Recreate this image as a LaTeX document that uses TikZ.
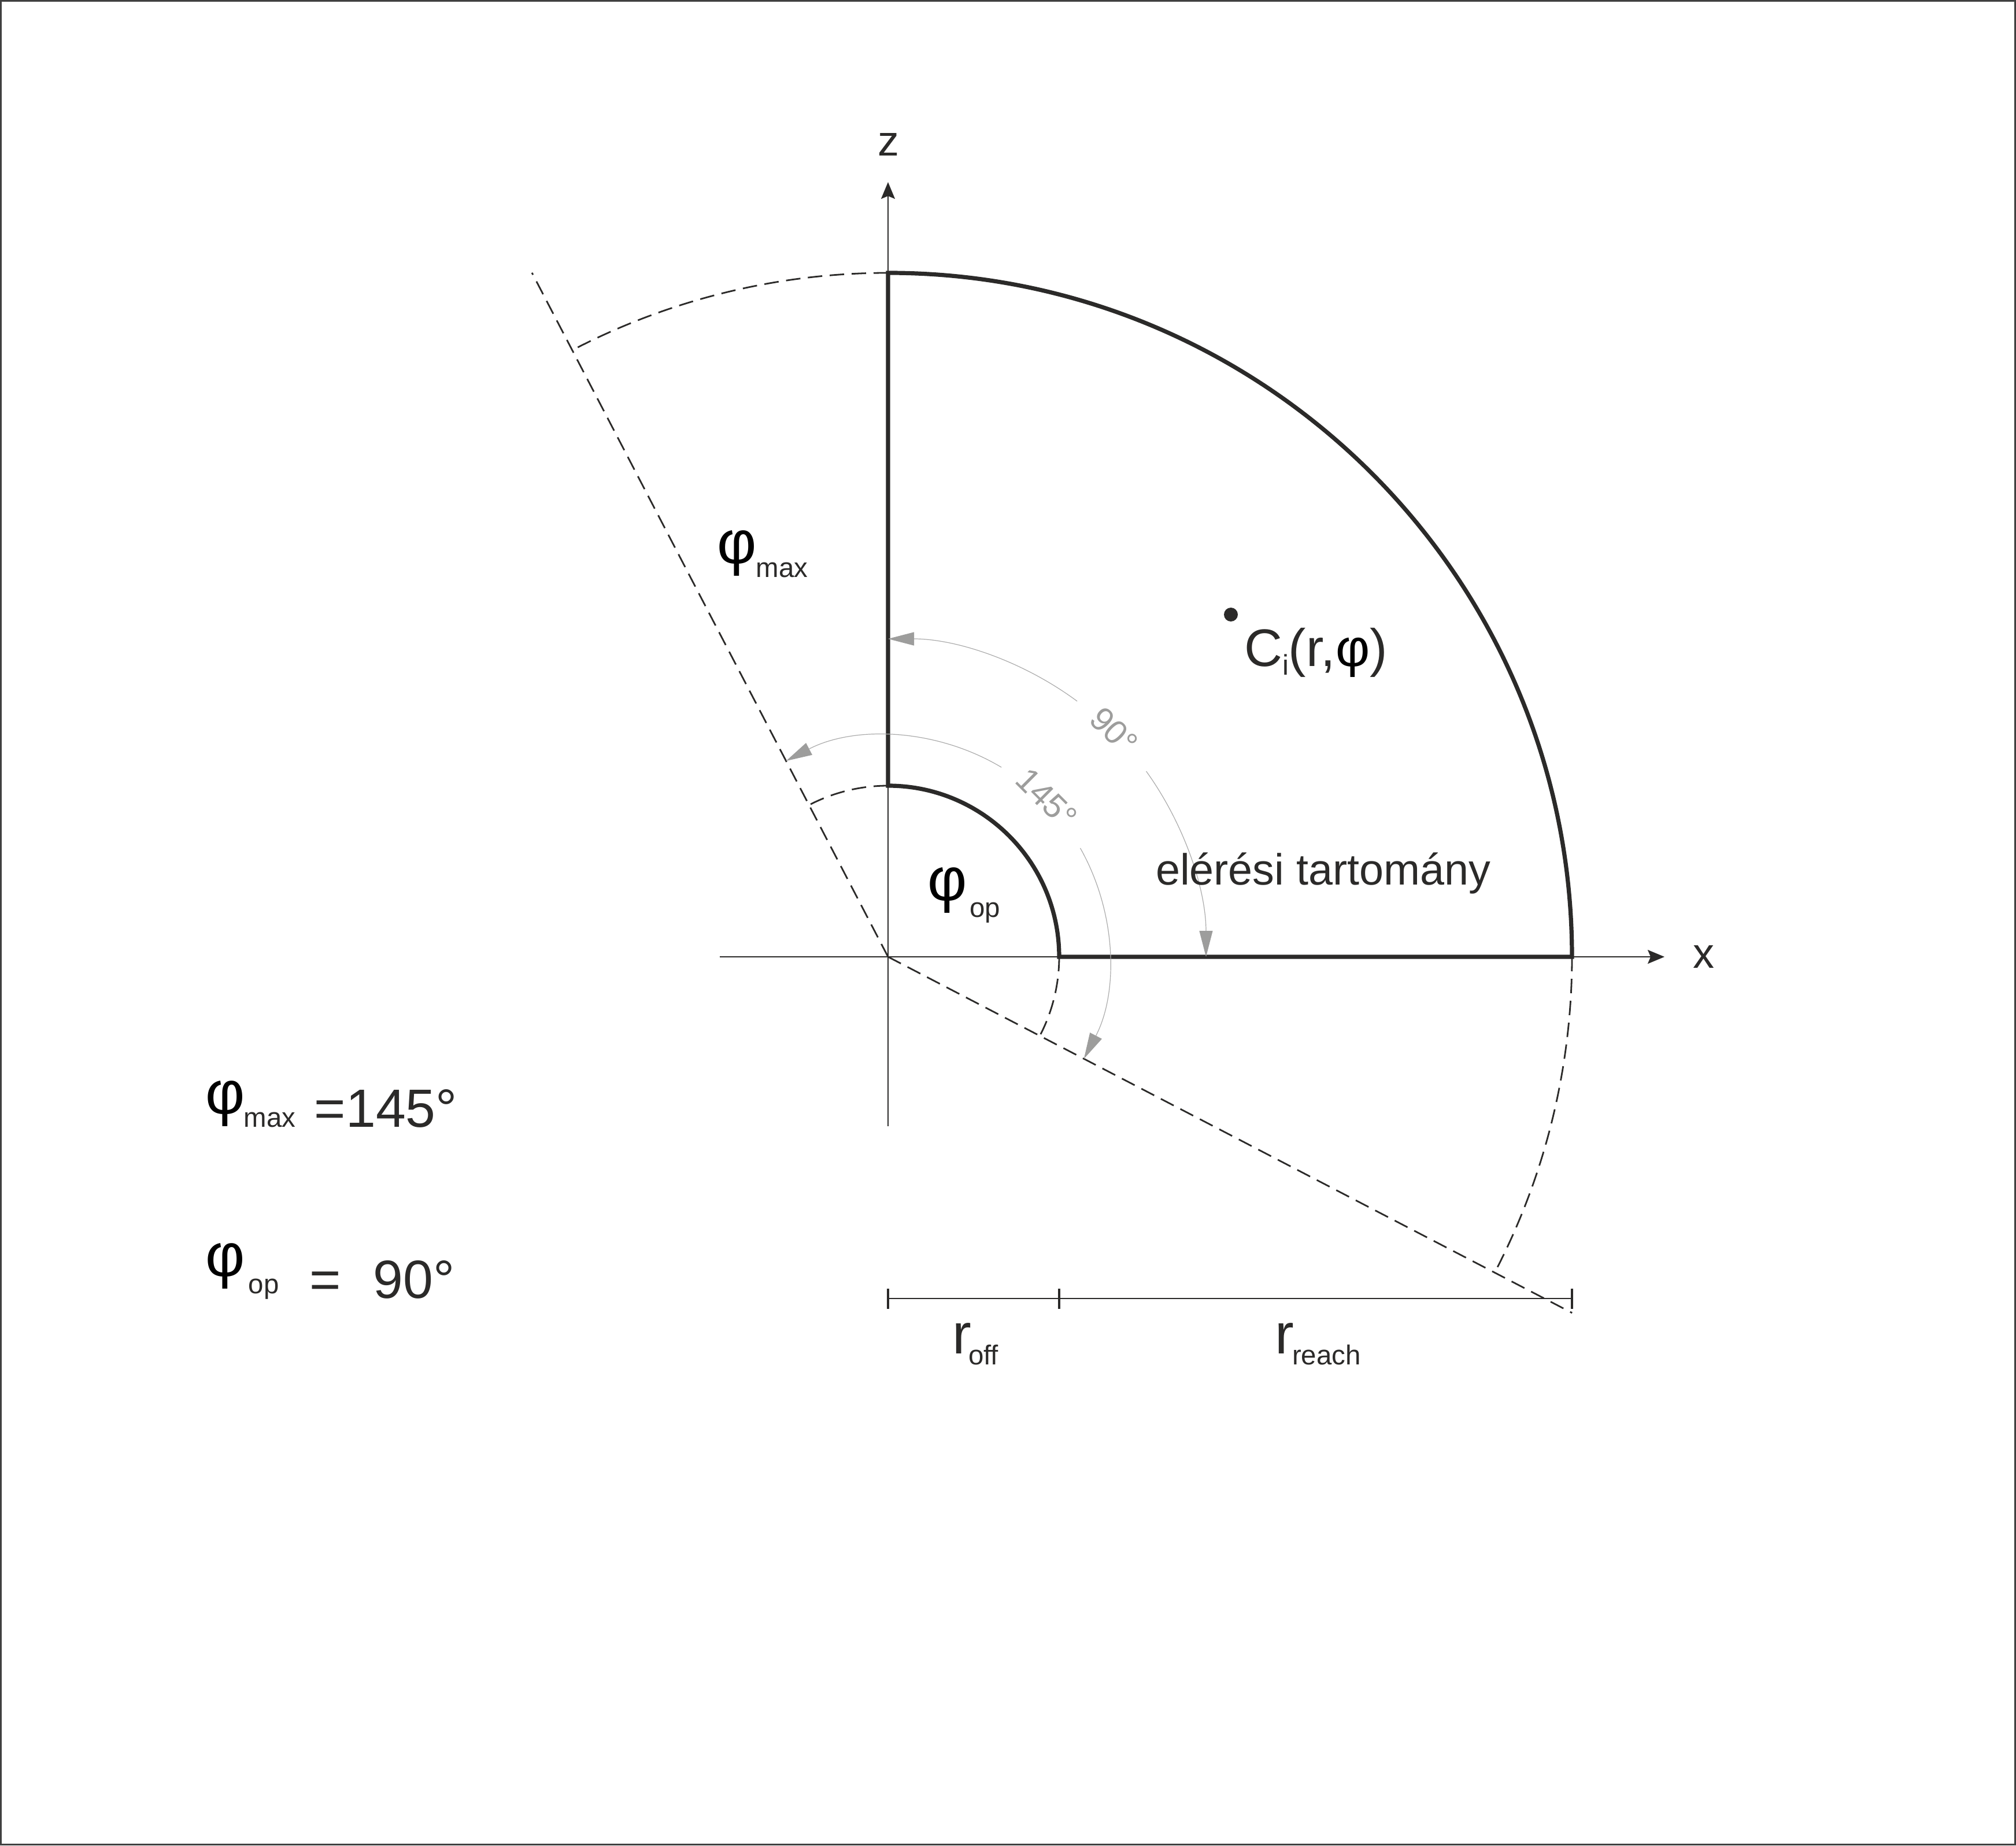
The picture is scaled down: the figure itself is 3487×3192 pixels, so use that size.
\documentclass[tikz,border=0pt]{standalone}
\usepackage{fontspec}
\setmainfont{Liberation Sans}
\usetikzlibrary{arrows.meta}
\definecolor{ink}{HTML}{2B2A29}
\definecolor{gr}{HTML}{9D9D9C}
\definecolor{grl}{HTML}{ABABAB}
\definecolor{frame}{HTML}{404040}
\newcommand\myfs[1]{\fontsize{#1}{#1}\selectfont}
\begin{document}
\begin{tikzpicture}[x=0.1mm,y=0.1mm,
  thickline/.style={line width=0.72mm, draw=ink, line join=miter},
  axisline/.style={line width=0.2mm, draw=ink},
  axishead/.style={-{Stealth[length=2.9mm,width=2.4mm,inset=0.5mm]}},
  dashline/.style={line width=0.28mm, draw=ink, dash pattern=on 2.5mm off 1.3mm},
  grayarc/.style={line width=0.12mm, draw=grl},
  grayhead/.style={-{Triangle[length=4.5mm,width=2.3mm,color=gr,fill=gr]}},
  dimline/.style={line width=0.25mm, draw=ink},
  dimtick/.style={line width=0.45mm, draw=ink},
  txt/.style={inner sep=0pt, outer sep=0pt, text=ink},
  phisym/.style={inner sep=0pt, outer sep=0pt, text=black, font=\myfs{30pt}},
  gtxt/.style={inner sep=0pt, outer sep=0pt, text=gr, font=\myfs{16.5pt}}
]
\useasboundingbox (-1536,-1537) rectangle (1951,1655);
\draw[line width=0.3mm, draw=frame] (-1534.5,-1535.5) rectangle (1949.5,1653.5);

% coordinates
\coordinate (O) at (0,0);
\coordinate (zb) at (0,-293);
\coordinate (zt) at (0,1340);
\coordinate (xb) at (-291,0);
\coordinate (xt) at (1343,0);

% axes
\draw[axisline, axishead] (zb) -- (zt);
\draw[axisline, axishead] (xb) -- (xt);
\node[txt, font=\myfs{21pt}] (zlab) at (1,1405) {z};
\node[txt, font=\myfs{21pt}] (xlab) at (1411,0) {x};

% dashed limits
\draw[dashline] (O) -- (117.5:1334);
\draw[dashline] (O) -- (-27.5:1334);
\draw[dashline] (0,1183) arc[start angle=90,end angle=117.5,radius=1183];
\draw[dashline] (1183,0) arc[start angle=0,end angle=-27.5,radius=1183];
\draw[dashline] (0,296) arc[start angle=90,end angle=117.5,radius=296];
\draw[dashline] (296,0) arc[start angle=0,end angle=-27.5,radius=296];

% reach region
\draw[thickline] (0,296) -- (0,1183) arc[start angle=90,end angle=0,radius=1183]
  -- (296,0) arc[start angle=0,end angle=90,radius=296] -- cycle;

% gray angle arcs
\draw[grayarc, grayhead] (53.5:550) arc[start angle=53.5,end angle=90,radius=550];
\draw[grayarc, grayhead] (35.7:550) arc[start angle=35.7,end angle=0,radius=550];
\draw[grayarc, grayhead] (59.1:382) arc[start angle=59.1,end angle=117.5,radius=382];
\draw[grayarc, grayhead] (29.5:382) arc[start angle=29.5,end angle=-27.5,radius=382];
\node[gtxt, rotate=-45] (l90) at (45:553) {90°};
\node[gtxt, rotate=-45] (l145) at (45:388) {145°};

% point C_i
\node[circle, fill=ink, inner sep=0pt, minimum size=2.4mm] (cdot) at (593,592) {};
\node[txt, anchor=base west, font=\myfs{26pt}] (ci) at (616,502)
  {C\raisebox{-1.5mm}{\myfs{14pt}i}(r,{\color{black}φ})};

\node[txt, anchor=base west, font=\myfs{21.5pt}] (region) at (463,125) {elérési tartomány};

% phi labels in figure
\node[phisym] (phimax) at (-261,698) {φ};
\node[txt, anchor=base west, font=\myfs{13.5pt}] (maxsub) at (-228,656) {max};
\node[phisym] (phiop) at (103,115) {φ};
\node[txt, anchor=base west, font=\myfs{13.5pt}] (opsub) at (141,69) {op};

% left formulas
\node[phisym] (phimaxL) at (-1146,-253.5) {φ};
\node[txt, anchor=base west, font=\myfs{13.5pt}] (maxL) at (-1114,-294) {max};
\node[txt, anchor=base west, font=\myfs{26.5pt}] (eqA) at (-992,-294) {=145°};
\node[phisym] (phiopL) at (-1146,-534.5) {φ};
\node[txt, anchor=base west, font=\myfs{13.5pt}] (opL) at (-1106,-582) {op};
\node[txt, anchor=base west, font=\myfs{26.5pt}] (eqB) at (-1000,-590) {=};
\node[txt, anchor=base west, font=\myfs{26.5pt}] (valB) at (-890,-590) {90°};

% dimension line
\coordinate (d0) at (0,-591);
\coordinate (d1) at (296,-591);
\coordinate (d2) at (1183,-591);
\draw[dimline] (d0) -- (d2);
\draw[dimtick] ([yshift=1.75mm]d0) -- ([yshift=-1.75mm]d0);
\draw[dimtick] ([yshift=1.75mm]d1) -- ([yshift=-1.75mm]d1);
\draw[dimtick] ([yshift=1.75mm]d2) -- ([yshift=-1.75mm]d2);
\node[txt, anchor=base west, font=\myfs{28pt}] (roff) at (111,-686) {r};
\node[txt, anchor=base west, font=\myfs{13.5pt}] (offsub) at (139,-705) {off};
\node[txt, anchor=base west, font=\myfs{28pt}] (rr) at (669,-686) {r};
\node[txt, anchor=base west, font=\myfs{13.5pt}] (reachsub) at (699,-705) {reach};
\end{tikzpicture}
\end{document}
